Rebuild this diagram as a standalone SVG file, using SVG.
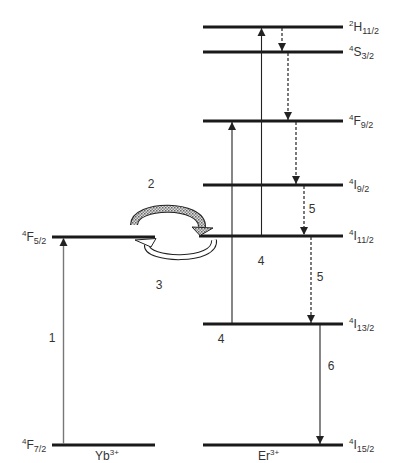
<svg xmlns="http://www.w3.org/2000/svg" width="419" height="463" viewBox="0 0 419 463">
<style>
.lvl{stroke:#1a1a1a;stroke-width:3;fill:none}
.up{stroke:#222;stroke-width:1.1;fill:none}
.gray{stroke:#777;stroke-width:1.4;fill:none}
.dash{stroke:#222;stroke-width:1.2;stroke-dasharray:3 2;fill:none}
text{font-family:"Liberation Sans",Arial,sans-serif;font-size:12px;fill:#333}
.sup{font-size:8px}
.sub{font-size:9px}
</style>
<defs>
<marker id="ah" viewBox="0 0 8 10" refX="8" refY="5" markerWidth="8" markerHeight="10" markerUnits="userSpaceOnUse" orient="auto">
<path d="M0,1 L8,5 L0,9 z" fill="#222"/>
</marker>
<pattern id="dots" width="3" height="3" patternUnits="userSpaceOnUse">
<rect width="3" height="3" fill="#ddd"/>
<rect x="0" y="0" width="1.5" height="1.5" fill="#666"/>
<rect x="1.5" y="1.5" width="1.5" height="1.5" fill="#888"/>
</pattern>
</defs>

<g id="yb-levels">
<line class="lvl" x1="52" y1="237" x2="155" y2="237"/>
<line class="lvl" x1="52" y1="445" x2="155" y2="445"/>
<text x="22" y="241"><tspan class="sup" dy="-5">4</tspan><tspan dy="5">F</tspan><tspan class="sub" dy="3">5/2</tspan></text>
<text x="22" y="449"><tspan class="sup" dy="-5">4</tspan><tspan dy="5">F</tspan><tspan class="sub" dy="3">7/2</tspan></text>
<text x="95" y="460">Yb<tspan class="sup" dy="-5">3+</tspan></text>
</g>

<g id="er-levels">
<line class="lvl" x1="203" y1="27" x2="343" y2="27"/>
<line class="lvl" x1="203" y1="52" x2="343" y2="52"/>
<line class="lvl" x1="203" y1="121" x2="343" y2="121"/>
<line class="lvl" x1="203" y1="185" x2="343" y2="185"/>
<line class="lvl" x1="199" y1="236" x2="343" y2="236"/>
<line class="lvl" x1="203" y1="324" x2="343" y2="324"/>
<line class="lvl" x1="203" y1="445" x2="343" y2="445"/>
<text x="349" y="31"><tspan class="sup" dy="-5">2</tspan><tspan dy="5">H</tspan><tspan class="sub" dy="3">11/2</tspan></text>
<text x="349" y="56"><tspan class="sup" dy="-5">4</tspan><tspan dy="5">S</tspan><tspan class="sub" dy="3">3/2</tspan></text>
<text x="349" y="125"><tspan class="sup" dy="-5">4</tspan><tspan dy="5">F</tspan><tspan class="sub" dy="3">9/2</tspan></text>
<text x="349" y="189"><tspan class="sup" dy="-5">4</tspan><tspan dy="5">I</tspan><tspan class="sub" dy="3">9/2</tspan></text>
<text x="349" y="240"><tspan class="sup" dy="-5">4</tspan><tspan dy="5">I</tspan><tspan class="sub" dy="3">11/2</tspan></text>
<text x="349" y="328"><tspan class="sup" dy="-5">4</tspan><tspan dy="5">I</tspan><tspan class="sub" dy="3">13/2</tspan></text>
<text x="349" y="449"><tspan class="sup" dy="-5">4</tspan><tspan dy="5">I</tspan><tspan class="sub" dy="3">15/2</tspan></text>
<text x="258" y="460">Er<tspan class="sup" dy="-5">3+</tspan></text>
</g>

<g id="connectors">
<line class="gray" x1="63.5" y1="444" x2="63.5" y2="238" marker-end="url(#ah)"/>
<line class="up" x1="232" y1="323" x2="232" y2="122" marker-end="url(#ah)"/>
<line class="up" x1="261.5" y1="235" x2="261.5" y2="28" marker-end="url(#ah)"/>
<line class="dash" x1="282" y1="28" x2="282" y2="51" marker-end="url(#ah)"/>
<line class="dash" x1="288" y1="53" x2="288" y2="120" marker-end="url(#ah)"/>
<line class="dash" x1="296" y1="122" x2="296" y2="184" marker-end="url(#ah)"/>
<line class="dash" x1="304" y1="186" x2="304" y2="235" marker-end="url(#ah)"/>
<line class="dash" x1="311" y1="237" x2="311" y2="323" marker-end="url(#ah)"/>
<line class="up" x1="320" y1="325" x2="320" y2="444" marker-end="url(#ah)"/>

<g id="transfer-arrow">
<path d="M134 225 C134 203, 203 203, 202 227" fill="none" stroke="#222" stroke-width="8"/>
<path d="M134 225 C134 203, 203 203, 202 227" fill="none" stroke="url(#dots)" stroke-width="6"/>
<polygon points="192,227 213,228 200,235.5" fill="url(#dots)" stroke="#222" stroke-width="1"/>
</g>
<g id="back-transfer-arrow">
<path d="M214 240 C217 263, 145 261, 147 245" fill="none" stroke="#222" stroke-width="6"/>
<path d="M214 240 C217 263, 145 261, 147 245" fill="none" stroke="#fff" stroke-width="4"/>
<polygon points="135,240 156,238.5 151,247" fill="#fff" stroke="#222" stroke-width="1"/>
</g>
</g>

<g id="labels">
<text x="151" y="188" text-anchor="middle">2</text>
<text x="159" y="289" text-anchor="middle">3</text>
<text x="52" y="342" text-anchor="middle">1</text>
<text x="261" y="265" text-anchor="middle">4</text>
<text x="221" y="343" text-anchor="middle">4</text>
<text x="312" y="213" text-anchor="middle">5</text>
<text x="320" y="281" text-anchor="middle">5</text>
<text x="331" y="370" text-anchor="middle">6</text>
</g>
</svg>
